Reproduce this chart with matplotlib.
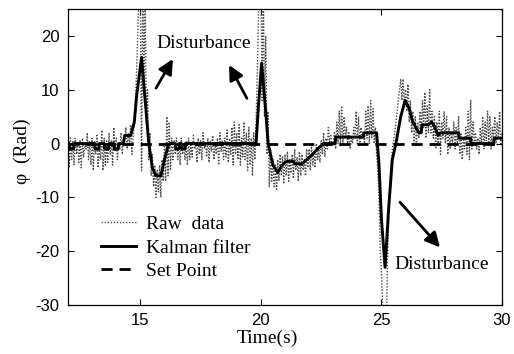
import numpy as np
import matplotlib
matplotlib.use("Agg")
import matplotlib.pyplot as plt

plt.rcParams["axes.unicode_minus"] = False

# ---------------- data ----------------
raw_t0, raw_dt = 12.0, 0.05
raw_12 = [1.5, -4.5, 1, -3, 0.5, -4, 1, -2, 0, -3.5, 0.5, -4.5, 1, -2.5, 0, -1, 2, -3, 0.5, -4]
raw_13 = [1, -5, 0.5, -2, 1.5, -4.5, 0, -3, 2.5, -5, 1, -4, 0.5, -3.5, 2, -2, 0.5, -4, 3, -1.5]
raw_14 = [1, -3, 0, -1, 2, -2, 0.5, 1, 3, -1, 2, 0, 3.5, -2, 1, 4, 8, 14, 22, 28]
raw_15 = [30, -5, 30, 12, 26, 4, 10, -3, 2, -6, -2, -8, -4, -10, -5, -9, -4, -10, -3, -7]
raw_16 = [0, -7, 5, -6, 4, -5, 1, -3, 0.5, -2, 1, -3, 0, -4, 1, -2, 0, -3, 0.5, -4]
raw_17 = [1, -3, 0, -2.5, 1.5, -1, 0, -3.5, 1, -2, 0.5, -3, 2, -1, 0, -2.5, 1, -3.5, 0.5, -1.5]
raw_18 = [1.5, -3, 0, -2, 1, -4, 2, -1.5, 0.5, -3, 1, -2.5, 2.5, -3.5, 1, -2, 3, -4, 4, -2]
raw_19 = [2, -3, 3.5, -4, 1, -2.5, 4, -3, 2, -5, 3, -4, 1, -6, 2, -3, 4, 12, 24, 30]
raw_20 = [32, 8, 30, 5, 20, -2, 6, -8, -1, -7, -3, -8, -4, -8.5, -3, -7, -2, -6, -2.5, -7.5]
raw_21 = [-2, -6, -1.5, -7, -3, -5.5, -2, -6.5, -1, -5, -2.5, -7, -1.5, -6, -2, -5, -3, -6, -1, -4.5]
raw_22 = [-1, -5, -0.5, -4, -1.5, -4.5, 0, -3, -1, -3.5, 0.5, -2, 2, -2.5, 1, -1, 3, 0, 1.5, -0.5]
raw_23 = [0, 2, -1, 4, 0, 6, -0.5, 7, 0, 5, 1, 3, 0, 2, -1, 1, 0, 3, 1, 6]
raw_24 = [0, 5, -0.5, 3, 1, 2, 0, 6, 1, 7, 0, 8, 1, 6.5, 0, 3, -2, -5, -10, -20]
raw_25 = [-24, -30, -35, -36, -34, -22, -14, -8, -4, -1, 0.5, 2, 4, 6, 8, 10, 12, 8, 12, 7]
raw_26 = [10, 6, 11, 4, 8, 2, 6, 0, 5, -0.5, 4, 1, 6, 2, 8, 3, 9.5, 1, 7, 2]
raw_27 = [10, 2, 6, 1, 5, -1, 4, 0, 6, -2, 4, 1, 6, 0, 5, -2, 3, -1, 2, 0]
raw_28 = [4, -1, 3, 0, 5, -2, 2, -3, 1, -1, 3, -2, 6, -3, 8, -1, 4, 0, 2, -1]
raw_29 = [1, -2, 3, 0, 5, -1, 4, 0.5, 6, 0, 5, -1, 3, 1, 5, 0, 4, 1, 6, 0]
raw_30 = [2]

kal_t = [12.0, 12.05, 12.07, 12.23, 12.25, 13.1, 13.12, 13.28, 13.3, 13.5, 13.52, 13.68, 13.7,
         13.9, 13.92, 14.08, 14.1, 14.3, 14.35, 14.6, 14.75, 14.85, 15.05, 15.2, 15.35, 15.5,
         15.65, 15.85, 16.0, 16.15, 16.25, 16.45, 16.47, 16.6, 16.62, 16.7, 16.72, 16.85, 16.87,
         19.8, 19.9, 20.03, 20.2, 20.3, 20.5, 20.7, 20.85, 21.0, 21.1, 21.35, 21.4, 21.7, 21.9,
         22.1, 22.35, 22.6, 23.08, 23.1, 24.25, 24.27, 24.8, 24.9, 25.0, 25.15, 25.3, 25.45,
         25.6, 25.8, 25.98, 26.15, 26.3, 26.45, 26.55, 26.65, 26.68, 26.95, 27.08, 27.2, 27.35,
         27.45, 28.2, 28.22, 28.7, 28.72, 29.65, 29.67, 30.0]
kal_v = [0, 0, -1, -1, 0, 0, -1, -1, 0, 0, -1, -1, 0,
         0, -1, -1, 0, 0, 1.5, 1.5, 4, 9, 16, 8, 0, -4.5,
         -6, -6, -3, -0.5, 0, 0, -1, -1, 0, 0, -1, -1, 0,
         0, 7, 14.9, 6, 0, -4, -5.4, -4.2, -3.5, -3.3, -3.3, -3.7, -3.8, -3,
         -2.2, -1, 0, 0, 1.2, 1.2, 2, 2, -4, -14, -23, -12, -3,
         0, 5, 8, 6.5, 4, 2.8, 2.0, 2.0, 3.5, 3.5, 4, 3.2, 1.5,
         2, 2, 1, 1, 0, 0, 1, 1]

setpoint = 0.0
xticks = [15, 20, 25, 30]
yticks = [-30, -20, -10, 0, 10, 20]

raw_v = (raw_12 + raw_13 + raw_14 + raw_15 + raw_16 + raw_17 + raw_18 + raw_19 + raw_20 +
         raw_21 + raw_22 + raw_23 + raw_24 + raw_25 + raw_26 + raw_27 + raw_28 + raw_29 + raw_30)
raw_t = raw_t0 + raw_dt * np.arange(len(raw_v))

# ---------------- plot ----------------
serif = ["Liberation Serif", "DejaVu Serif"]
sans = ["Liberation Sans", "DejaVu Sans"]

fig = plt.figure(figsize=(5.14, 3.54), dpi=100)
ax = fig.add_axes([68/514, 1 - 305/354, 434/514, 296/354])

ax.plot(raw_t, raw_v, color="#4a4a4a", lw=1.0, linestyle=(0, (1, 1.2)), label="Raw  data")
ax.plot(kal_t, kal_v, color="black", lw=2.1, label="Kalman filter")
ax.plot([12, 30], [setpoint, setpoint], color="black", lw=2.0, linestyle=(0, (4, 2.5)),
        label="Set Point")

ax.set_xlim(12, 30)
ax.set_ylim(-30, 25)
ax.set_xticks(xticks)
ax.set_yticks(yticks)
ax.tick_params(direction="in", length=4, width=0.8, top=True, right=True,
               labelsize=12, pad=6)
for lab in ax.get_xticklabels() + ax.get_yticklabels():
    lab.set_family(sans)
for s in ax.spines.values():
    s.set_linewidth(0.9)

ax.set_xlabel("Time(s)", family=serif, fontsize=14)
ax.xaxis.set_label_coords(0.4585, -0.085)
ax.set_ylabel("φ  (Rad)", family=serif, fontsize=14)
ax.yaxis.set_label_coords(-0.085, 0.52)

arrow = dict(arrowstyle="-|>", lw=2.0, color="black", mutation_scale=22, shrinkA=0, shrinkB=0)
ax.annotate("", xy=(16.35, 15.7), xytext=(15.65, 10.3), arrowprops=arrow)
ax.annotate("", xy=(18.68, 14.6), xytext=(19.42, 8.4), arrowprops=arrow)
ax.annotate("", xy=(27.43, -19.3), xytext=(25.77, -10.9), arrowprops=arrow)
ax.text(15.65, 17.75, "Disturbance", family=serif, fontsize=14, va="baseline", ha="left")
ax.text(25.52, -23.3, "Disturbance", family=serif, fontsize=14, va="baseline", ha="left")

leg = ax.legend(loc="upper left", bbox_to_anchor=(0.045, 0.348), frameon=False,
                prop={"family": serif, "size": 14}, handlelength=1.8, handletextpad=0.5,
                labelspacing=0.3, borderpad=0.2)

fig.savefig("out.png", dpi=100)
